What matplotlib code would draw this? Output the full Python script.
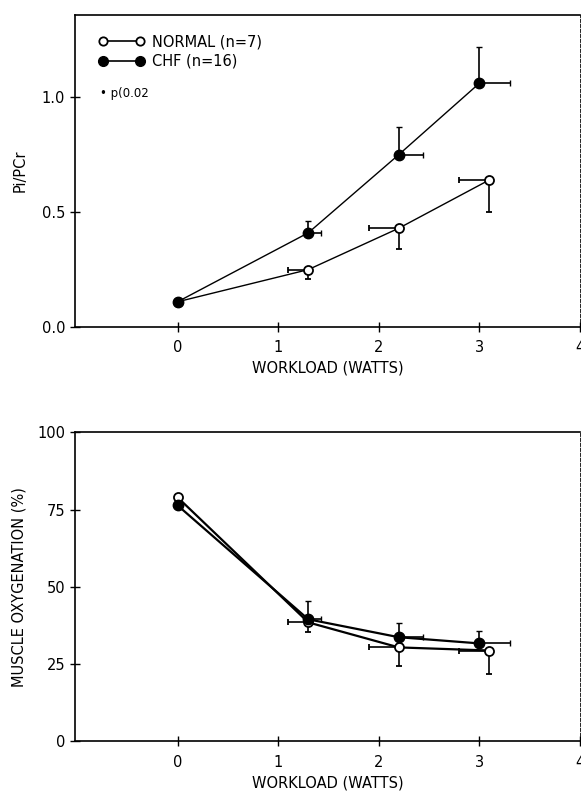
import matplotlib
matplotlib.use("Agg")
import matplotlib.pyplot as plt
import numpy as np
from matplotlib.lines import Line2D

# workload (watts) and spreads
work_normal = [0, 1.3, 2.2, 3.1]
work_chf = [0, 1.3, 2.2, 3.0]
work_err_normal = [0, 0.2, 0.3, 0.3]
work_err_chf = [0, 0.13, 0.24, 0.31]

# Pi/PCr
pi_normal = [0.11, 0.25, 0.43, 0.64]
pi_err_normal = [0, 0.04, 0.09, 0.14]
pi_chf = [0.11, 0.41, 0.75, 1.06]
pi_err_chf = [0, 0.05, 0.12, 0.16]

# muscle oxygenation (%)
oxy_normal = [79.0, 38.5, 30.4, 29.4]
oxy_err_normal = [0, 3.0, 6.0, 7.5]
oxy_chf = [76.4, 39.5, 33.7, 31.7]
oxy_err_chf = [0, 6.0, 4.5, 4.0]

zeros = [0, 0, 0, 0]

fig = plt.figure(figsize=(5.81, 7.92), dpi=100)
ax1 = fig.add_axes([0.129, 0.587, 0.869, 0.394])
ax2 = fig.add_axes([0.129, 0.064, 0.869, 0.390])


def draw(ax, y_n, e_n, y_c, e_c, lw):
    # normal: open circles, errors down / left
    ax.errorbar(work_normal, y_n, yerr=[e_n, zeros], xerr=[work_err_normal, zeros],
                fmt="o", ms=6.5, mfc="white", mec="black", mew=1.3, color="black",
                ecolor="black", elinewidth=1.2, capsize=2, ls="-", lw=lw, zorder=3)
    # chf: filled circles, errors up / right
    ax.errorbar(work_chf, y_c, yerr=[zeros, e_c], xerr=[zeros, work_err_chf],
                fmt="o", ms=7.5, mfc="black", mec="black", color="black",
                ecolor="black", elinewidth=1.2, capsize=2, ls="-", lw=lw, zorder=4)


draw(ax1, pi_normal, pi_err_normal, pi_chf, pi_err_chf, 1.0)
draw(ax2, oxy_normal, oxy_err_normal, oxy_chf, oxy_err_chf, 1.6)

for ax in (ax1, ax2):
    ax.set_xlim(-1.02, 4.0)
    ax.set_xticks([0, 1, 2, 3, 4])
    ax.tick_params(direction="inout", length=7, width=1, labelsize=10.5)
    ax.tick_params(axis="x", pad=6)
    ax.set_xlabel("WORKLOAD (WATTS)", fontsize=10.5, labelpad=4)
    for s in ax.spines.values():
        s.set_linewidth(1.2)
    ax.spines["right"].set_linewidth(0.6)
    ax.spines["right"].set_linestyle((0, (4, 2)))

ax1.set_ylim(0, 1.357)
ax1.set_yticks([0.0, 0.5, 1.0])
ax1.set_yticklabels(["0.0", "0.5", "1.0"])
ax1.set_ylabel("Pi/PCr", fontsize=10.5, labelpad=10)

ax2.set_ylim(0, 100)
ax2.set_yticks([0, 25, 50, 75, 100])
ax2.set_ylabel("MUSCLE OXYGENATION (%)", fontsize=10.5, labelpad=8)

handles = [
    Line2D([0], [0], color="black", lw=1.2, marker="o", ms=6, mfc="white", mec="black", mew=1.3),
    Line2D([0], [0], color="black", lw=1.2, marker="o", ms=7, mfc="black", mec="black"),
]
leg = ax1.legend(handles, ["NORMAL (n=7)", "CHF (n=16)"], loc="upper left",
                 bbox_to_anchor=(0.02, 0.98), frameon=False, numpoints=2,
                 handlelength=3.2, handletextpad=0.5, labelspacing=0.3, fontsize=10.5)
ax1.text(0.05, 0.75, "• p(0.02", transform=ax1.transAxes, fontsize=8.5,
         va="center", ha="left")

fig.savefig("out.png", dpi=100)
